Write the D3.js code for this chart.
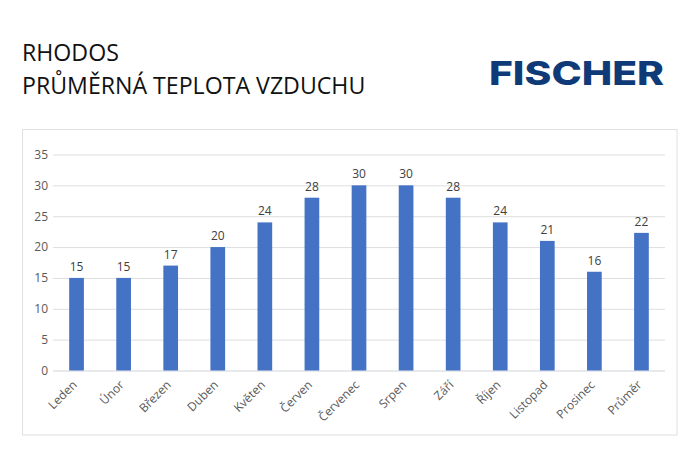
<!DOCTYPE html>
<html>
<head>
<meta charset="utf-8">
<script src="https://cdn.jsdelivr.net/npm/d3@7"></script>
<style>
  html, body { margin: 0; padding: 0; background: #fff; }
  svg { display: block; }
  text { font-family: "Open Sans", sans-serif; }
</style>
</head>
<body>
<div id="chart"></div>
<script>
const months = ["Leden", "Únor", "Březen", "Duben", "Květen", "Červen", "Červenec", "Srpen", "Září", "Říjen", "Listopad", "Prosinec", "Průměr"];
const temps = [15, 15, 17, 20, 24, 28, 30, 30, 28, 24, 21, 16, 22.3];
const yTicks = [0, 5, 10, 15, 20, 25, 30, 35];
const titleLines = ["RHODOS", "PRŮMĚRNÁ TEPLOTA VZDUCHU"];
const logoText = "FISCHER";

const width = 700, height = 450;
const margin = {top: 154.5, right: 35, bottom: 79.5, left: 53};

const svg = d3.select("#chart")
    .append("svg")
    .attr("width", width)
    .attr("height", height)
    .attr("viewBox", [0, 0, width, height]);

// title
svg.selectAll(".title")
    .data(titleLines)
    .enter()
    .append("text")
    .attr("class", "title")
    .attr("x", 22)
    .attr("y", (d, i) => 61 + i * 33)
    .attr("font-size", 23.15)
    .attr("fill", "#111")
    .text(d => d);

// logo
svg.append("text")
    .attr("x", 489)
    .attr("y", 84.5)
    .attr("font-size", 33)
    .attr("font-weight", 800)
    .attr("fill", "#0f3a78")
    .attr("textLength", 175)
    .attr("lengthAdjust", "spacingAndGlyphs")
    .style("font-family", "Inter, sans-serif")
    .text(logoText);

// chart card
svg.append("rect")
    .attr("x", 22.5)
    .attr("y", 129.5)
    .attr("width", 654.5)
    .attr("height", 305.5)
    .attr("fill", "#fff")
    .attr("stroke", "#e0e0e0");

const xScale = d3.scaleBand()
    .domain(months)
    .range([margin.left, width - margin.right])
    .paddingInner(0.688)
    .paddingOuter(0.344);

const yScale = d3.scaleLinear()
    .domain([0, 35])
    .range([height - margin.bottom, margin.top]);

// y axis + gridlines
const yAxis = svg.append("g")
    .attr("transform", `translate(${margin.left}, 0)`)
    .call(d3.axisLeft(yScale)
        .tickValues(yTicks)
        .tickSize(-(width - margin.left - margin.right))
        .tickPadding(5));
yAxis.select(".domain").remove();
yAxis.selectAll("line").attr("stroke", "#dedede");
yAxis.selectAll("text").attr("font-size", 12).attr("fill", "#595959");
yAxis.selectAll("line").filter(d => d === 0).attr("stroke", "#cfd3da");

// bars
svg.selectAll(".bar")
    .data(temps)
    .enter()
    .append("rect")
    .attr("class", "bar")
    .attr("x", (d, i) => xScale(months[i]))
    .attr("y", d => yScale(d))
    .attr("width", xScale.bandwidth())
    .attr("height", d => yScale(0) - yScale(d))
    .attr("fill", "#4472c4");

// value labels
svg.selectAll(".value")
    .data(temps)
    .enter()
    .append("text")
    .attr("class", "value")
    .attr("x", (d, i) => xScale(months[i]) + xScale.bandwidth() / 2)
    .attr("y", d => yScale(d) - 7)
    .attr("text-anchor", "middle")
    .attr("font-size", 12)
    .attr("fill", "#404040")
    .text(d => d3.format(".0f")(d));

// x axis
const xAxis = svg.append("g")
    .attr("transform", `translate(0, ${height - margin.bottom})`)
    .call(d3.axisBottom(xScale).tickSize(0));
xAxis.select(".domain").remove();
xAxis.selectAll("text")
    .attr("font-size", 12)
    .attr("fill", "#595959")
    .attr("text-anchor", "end")
    .attr("dy", 0)
    .attr("transform", "translate(-1, 13) rotate(-45)");
</script>
</body>
</html>
